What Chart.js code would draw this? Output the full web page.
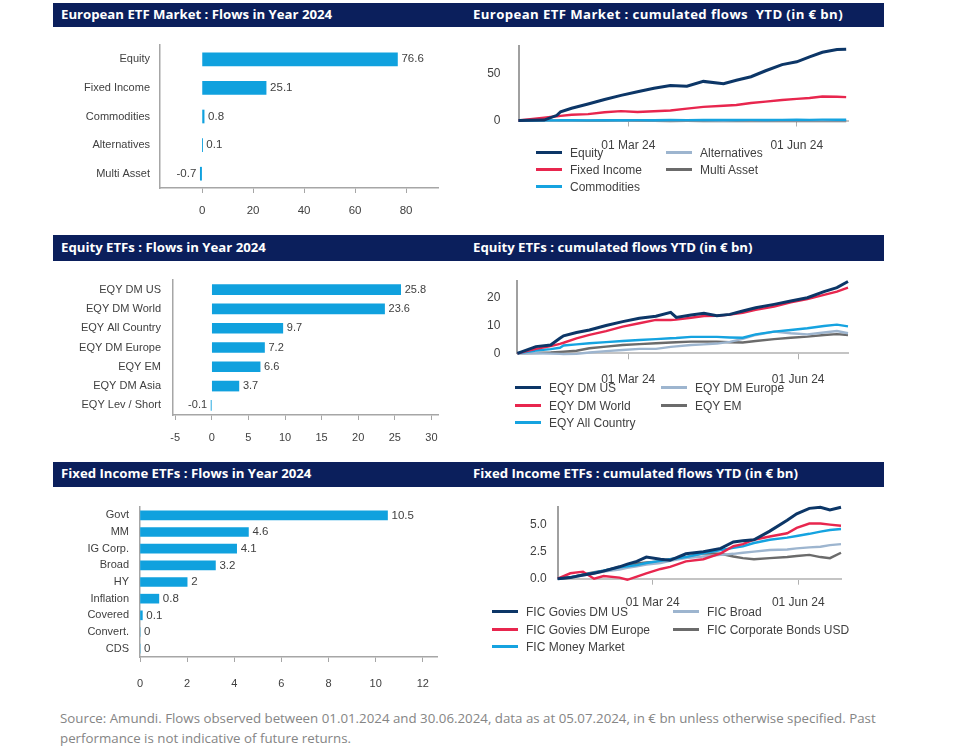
<!DOCTYPE html>
<html>
<head>
<meta charset="utf-8">
<script src="https://cdn.jsdelivr.net/npm/chart.js@4.4.1/dist/chart.umd.min.js"></script>
<style>
  body { margin: 0; background: #fff; width: 960px; height: 754px; position: relative; overflow: hidden; }
  .band { position: absolute; left: 53px; width: 831px; background: #0b1f5c; }
  .title { position: absolute; color: #fff; font: bold 13.2px "Open Sans", sans-serif; white-space: pre; }
  canvas { position: absolute; }
  .lg { position: absolute; font: 12px "Liberation Sans", Arial, sans-serif; color: #404040; white-space: nowrap; line-height: 14px; }
  .lg i { position: absolute; left: 0; top: 5px; width: 26px; height: 3px; }
  .lg span { position: absolute; left: 34px; top: 0; }
  .note { position: absolute; left: 60px; top: 708px; font: 13.3px "Open Sans", sans-serif; color: #858585; line-height: 20px; white-space: nowrap; }
</style>
</head>
<body>
<div class="band" style="top:3px;height:24px"></div>
<div class="band" style="top:235px;height:26px"></div>
<div class="band" style="top:462px;height:25px"></div>
<div class="title" style="left:61px;top:5px">European ETF Market : Flows in Year 2024</div>
<div class="title" style="left:473px;top:5px;letter-spacing:0.4px">European ETF Market : cumulated flows  YTD (in € bn)</div>
<div class="title" style="left:61px;top:238px">Equity ETFs : Flows in Year 2024</div>
<div class="title" style="left:473px;top:238px">Equity ETFs : cumulated flows YTD (in € bn)</div>
<div class="title" style="left:61px;top:464px">Fixed Income ETFs : Flows in Year 2024</div>
<div class="title" style="left:473px;top:464px">Fixed Income ETFs : cumulated flows YTD (in € bn)</div>

<canvas id="c1"></canvas>
<canvas id="c2"></canvas>
<canvas id="c3"></canvas>
<canvas id="c4"></canvas>
<canvas id="c5"></canvas>
<canvas id="c6"></canvas>

<div class="note">Source: Amundi. Flows observed between 01.01.2024 and 30.06.2024, data as at 05.07.2024, in € bn unless otherwise specified. Past<br>performance is not indicative of future returns.</div>

<script>
// bar charts
const assetCats = ['Equity', 'Fixed Income', 'Commodities', 'Alternatives', 'Multi Asset'];
const assetFlows = [76.6, 25.1, 0.8, 0.1, -0.7];
const assetTicks = [0, 20, 40, 60, 80];

const eqyCats = ['EQY DM US', 'EQY DM World', 'EQY All Country', 'EQY DM Europe', 'EQY EM', 'EQY DM Asia', 'EQY Lev / Short'];
const eqyFlows = [25.8, 23.6, 9.7, 7.2, 6.6, 3.7, -0.1];
const eqyTicks = [-5, 0, 5, 10, 15, 20, 25, 30];

const ficCats = ['Govt', 'MM', 'IG Corp.', 'Broad', 'HY', 'Inflation', 'Covered', 'Convert.', 'CDS'];
const ficFlows = [10.5, 4.6, 4.1, 3.2, 2, 0.8, 0.1, 0, 0];
const ficTicks = [0, 2, 4, 6, 8, 10, 12];

// cumulated flows
const dateTicks = ['2024-03-01', '2024-06-01'];
const dateTickLabels = ['01 Mar 24', '01 Jun 24'];

const marketDates = ['2024-01-01', '2024-01-15', '2024-01-22', '2024-01-24', '2024-01-30', '2024-02-08', '2024-02-17', '2024-02-26',
  '2024-03-06', '2024-03-15', '2024-03-24', '2024-04-02', '2024-04-11', '2024-04-22', '2024-04-29', '2024-05-07', '2024-05-15',
  '2024-05-24', '2024-06-01', '2024-06-08', '2024-06-15', '2024-06-23', '2024-06-28'];
const marketNames = ['Equity', 'Fixed Income', 'Commodities', 'Alternatives', 'Multi Asset'];
const marketEquity = [0, 0.5, 5.6, 9.4, 13.2, 17.7, 22.6, 27, 30.8, 34.6, 37.6, 36.8, 42, 39.5, 43.2, 47, 53.4, 60, 63, 68.4, 73.3, 76.3, 76.6];
const marketFixedIncome = [0, 3, 4.5, 5, 6.2, 6.8, 8.8, 10.1, 9.2, 10, 10.8, 12.8, 14.6, 15.8, 16.6, 18.8, 20.3, 22, 23.2, 24.2, 25.8, 25.5, 25.1];
const marketCommodities = [0, 0.1, 0.1, 0.2, 0.2, 0.1, 0.3, 0.2, 0.4, 0.3, 0.5, 0.4, 0.6, 0.5, 0.6, 0.7, 0.6, 0.7, 0.8, 0.7, 0.9, 0.8, 0.8];
const marketAlternatives = [0, 0, 0.1, 0, 0, 0.1, 0.1, 0, 0.1, 0.1, 0.2, 0.1, 0.1, 0, 0.1, 0.1, 0.2, 0.1, 0.1, 0.1, 0.2, 0.1, 0.1];
const marketMultiAsset = [0, -0.1, -0.1, -0.2, -0.2, -0.3, -0.3, -0.2, -0.4, -0.4, -0.5, -0.4, -0.5, -0.5, -0.6, -0.5, -0.6, -0.6, -0.7, -0.6, -0.7, -0.7, -0.7];
const marketTicks = [0, 50];

const equityDates = ['2024-01-01', '2024-01-11', '2024-01-19', '2024-01-24', '2024-01-26', '2024-02-02', '2024-02-09', '2024-02-18',
  '2024-02-27', '2024-03-07', '2024-03-16', '2024-03-24', '2024-03-27', '2024-04-04', '2024-04-11', '2024-04-18', '2024-04-25',
  '2024-05-02', '2024-05-09', '2024-05-19', '2024-05-28', '2024-06-06', '2024-06-15', '2024-06-22', '2024-06-28'];
const equityNames = ['EQY DM US', 'EQY DM World', 'EQY All Country', 'EQY DM Europe', 'EQY EM'];
const equityUS = [0, 2.4, 3, 5.4, 6.3, 7.5, 8.4, 10, 11.4, 12.6, 13.3, 14.7, 12.9, 13.8, 14.4, 13.5, 14, 15.2, 16.4, 17.6, 18.8, 20, 22.2, 23.6, 25.8];
const equityWorld = [0, 1.6, 2.6, 3.4, 3.8, 5.4, 6.6, 8, 9.6, 10.8, 12, 12, 12.1, 12.8, 13.4, 13.5, 13.9, 14.6, 15.6, 16.8, 18.3, 19.5, 21, 22.2, 23.6];
const equityAllCountry = [0, 1.0, 1.5, 2.0, 2.8, 3.2, 3.6, 4.0, 4.4, 4.8, 5.1, 5.4, 5.5, 5.9, 5.9, 5.9, 5.7, 5.6, 6.8, 7.8, 8.4, 9, 9.8, 10.3, 9.7];
const equityEurope = [0, 0, -0.1, -0.2, -0.3, -0.2, 0.3, 0.8, 1.2, 1.6, 1.6, 2.3, 2.5, 3, 3.2, 3.5, 4.1, 5.2, 6.6, 7.8, 7.2, 6.8, 7.5, 8, 7.2];
const equityEM = [0, 0.1, 0.3, 0.5, 0.6, 0.9, 1.8, 2.4, 3, 3.3, 3.6, 3.9, 4, 4.2, 4.2, 4.2, 4.0, 3.9, 4.4, 5.1, 5.6, 6, 6.6, 6.9, 6.6];
const equityTicks = [0, 10, 20];

const ficDates = ['2024-01-01', '2024-01-09', '2024-01-17', '2024-01-24', '2024-01-30', '2024-02-09', '2024-02-14', '2024-02-20',
  '2024-02-26', '2024-03-06', '2024-03-12', '2024-03-22', '2024-04-02', '2024-04-13', '2024-04-21', '2024-04-27', '2024-05-04',
  '2024-05-14', '2024-05-25', '2024-05-31', '2024-06-08', '2024-06-15', '2024-06-21', '2024-06-28'];
const ficNames = ['FIC Govies DM US', 'FIC Govies DM Europe', 'FIC Money Market', 'FIC Broad', 'FIC Corporate Bonds USD'];
const ficGoviesUS = [0, 0.1, 0.35, 0.5, 0.7, 1.1, 1.35, 1.6, 2.0, 1.8, 1.7, 2.3, 2.5, 2.8, 3.4, 3.5, 3.6, 4.4, 5.4, 6.0, 6.5, 6.6, 6.35, 6.6];
const ficGoviesEurope = [0, 0.5, 0.65, 0, 0.25, 0.1, -0.1, 0.2, 0.5, 0.9, 1.1, 1.6, 1.8, 2.35, 3.0, 3.2, 3.6, 3.9, 4.2, 4.7, 5.1, 5.1, 5.0, 4.9];
const ficMoneyMarket = [0, 0.15, 0.35, 0.55, 0.75, 1.05, 1.15, 1.25, 1.45, 1.65, 1.8, 2.0, 2.35, 2.65, 2.85, 3.0, 3.3, 3.6, 3.8, 3.95, 4.15, 4.35, 4.5, 4.6];
const ficBroad = [0, 0.15, 0.3, 0.5, 0.65, 0.85, 1.0, 1.15, 1.3, 1.45, 1.65, 1.9, 2.05, 2.2, 2.3, 2.4, 2.5, 2.65, 2.7, 2.8, 2.9, 2.95, 3.1, 3.2];
const ficCorpUSD = [0, 0.1, 0.4, 0.6, 0.75, 1.1, 1.25, 1.4, 1.5, 1.6, 1.8, 2.0, 2.35, 2.3, 2.05, 1.9, 1.8, 1.9, 2.0, 2.1, 2.2, 2.0, 1.9, 2.4];
const ficTicksY = [0, 2.5, 5];

const barColor = '#10a1de';
const lineColors = ['#0c3667', '#e8264e', '#15a3e0', '#9db5cf', '#6b6b6b'];
const lineWidths = [3, 2.4, 2.4, 2.4, 2.4];
const axisGrey = '#a6a6a6';
const textGrey = '#404040';

Chart.defaults.font.family = '"Liberation Sans", Arial, sans-serif';
Chart.defaults.color = textGrey;
Chart.defaults.animation = false;

const dayOf = d => Math.round((Date.parse(d) - Date.parse('2024-01-01')) / 86400000);

function placeCanvas(id, box) {
  const c = document.getElementById(id);
  c.width = box.width; c.height = box.height;
  c.style.left = box.left + 'px'; c.style.top = box.top + 'px';
  c.style.width = box.width + 'px'; c.style.height = box.height + 'px';
  return c;
}

// keep the chart area where the picture has it: no extra room for tick labels
const fitX = (box, area) => s => {
  s.height = box.top + box.height - area.bottom;
  s.paddingLeft = 0; s.paddingRight = 0;
};
const fitY = (box, area) => s => {
  s.width = area.left - box.left;
  s.paddingTop = 0; s.paddingBottom = 0;
};

// value labels at the end of each bar
const barValueLabels = {
  id: 'barValueLabels',
  afterDatasetsDraw(chart, args, opts) {
    const ctx = chart.ctx;
    const meta = chart.getDatasetMeta(0);
    const vals = chart.data.datasets[0].data;
    ctx.save();
    ctx.font = opts.size + 'px "Liberation Sans", Arial, sans-serif';
    ctx.fillStyle = textGrey;
    ctx.textBaseline = 'middle';
    meta.data.forEach((el, i) => {
      const v = vals[i];
      if (v < 0) {
        ctx.textAlign = 'right';
        ctx.fillText(String(v), el.x - 4, el.y);
      } else {
        ctx.textAlign = 'left';
        ctx.fillText(String(v), el.x + 4, el.y);
      }
    });
    ctx.restore();
  }
};

function barChart(id, box, area, cats, vals, ticks, xmin, xmax, opt) {
  const c = placeCanvas(id, box);
  return new Chart(c, {
    type: 'bar',
    data: { labels: cats, datasets: [{ data: vals, backgroundColor: barColor, barThickness: opt.thick }] },
    plugins: [barValueLabels],
    options: {
      responsive: false,
      indexAxis: 'y',
      layout: { padding: { top: area.top - box.top, right: box.left + box.width - area.right, left: 0, bottom: 0 } },
      plugins: { legend: { display: false }, tooltip: { enabled: false }, barValueLabels: { size: opt.valueSize } },
      scales: {
        x: {
          type: 'linear', min: xmin, max: xmax,
          afterBuildTicks: s => { s.ticks = ticks.map(v => ({ value: v })); },
          afterFit: fitX(box, area),
          grid: { drawOnChartArea: false, drawTicks: true, tickLength: 5, color: axisGrey, lineWidth: 1 },
          border: { color: axisGrey, width: 1.5 },
          ticks: { padding: opt.xPad, maxRotation: 0, autoSkip: false, font: { size: opt.tickSize } }
        },
        y: {
          afterFit: fitY(box, area),
          grid: { display: false, drawTicks: false },
          border: { color: axisGrey, width: 1.5 },
          ticks: { padding: opt.yPad, autoSkip: false, font: { size: 11 } }
        }
      }
    }
  });
}

function lineChart(id, box, area, dates, series, yTicks, ymax, xmax, opt) {
  const c = placeCanvas(id, box);
  const tickDays = dateTicks.map(dayOf);
  return new Chart(c, {
    type: 'line',
    data: {
      datasets: series.map((vals, k) => ({
        data: dates.map((d, i) => ({ x: dayOf(d), y: vals[i] })),
        borderColor: lineColors[k], borderWidth: lineWidths[k],
        pointRadius: 0, tension: 0, fill: false, clip: false
      }))
    },
    options: {
      responsive: false,
      layout: { padding: { top: area.top - box.top, right: box.left + box.width - area.right, left: 0, bottom: 0 } },
      plugins: { legend: { display: false }, tooltip: { enabled: false } },
      scales: {
        x: {
          type: 'linear', min: 0, max: xmax,
          afterBuildTicks: s => { s.ticks = tickDays.map(v => ({ value: v })); },
          afterFit: fitX(box, area),
          grid: { drawOnChartArea: false, drawTicks: true, tickLength: 6, color: '#b0b0b0', lineWidth: 1 },
          border: { color: '#c4c4c4', width: 2 },
          ticks: { padding: opt.xPad, maxRotation: 0, autoSkip: false, font: { size: 12 },
            callback: v => dateTickLabels[tickDays.indexOf(v)] }
        },
        y: {
          min: 0, max: ymax,
          afterBuildTicks: s => { s.ticks = yTicks.map(v => ({ value: v })); },
          afterFit: fitY(box, area),
          grid: { display: false, drawTicks: false },
          border: { color: '#a0a0a0', width: 2 },
          ticks: { padding: opt.yPad, font: { size: 12 }, callback: opt.fmt || (v => v) }
        }
      }
    }
  });
}

function legend(names, pos) {
  names.forEach((n, k) => {
    const col = Math.floor(k / 3), row = k % 3;
    const d = document.createElement('div');
    d.className = 'lg';
    d.style.left = (col ? pos.x2 : pos.x1) + 'px';
    d.style.top = (pos.y + row * pos.dy - 7) + 'px';
    d.innerHTML = '<i style="background:' + lineColors[k] + '"></i><span>' + n + '</span>';
    document.body.appendChild(d);
  });
}

barChart('c1', { left: 55, top: 35, width: 390, height: 190 }, { left: 160, top: 45, right: 438, bottom: 188 },
  assetCats, assetFlows, assetTicks, -16.5, 92.5, { thick: 13, xPad: 11, yPad: 10, tickSize: 11.5, valueSize: 11.5 });
barChart('c3', { left: 55, top: 268, width: 390, height: 185 }, { left: 173, top: 280, right: 438, bottom: 415 },
  eqyCats, eqyFlows, eqyTicks, -5.3, 30.9, { thick: 10, xPad: 11, yPad: 12, tickSize: 11, valueSize: 11 });
barChart('c5', { left: 45, top: 495, width: 400, height: 200 }, { left: 140, top: 507, right: 437, bottom: 657 },
  ficCats, ficFlows, ficTicks, 0, 12.6, { thick: 9, xPad: 15, yPad: 11, tickSize: 11, valueSize: 11.5 });

lineChart('c2', { left: 470, top: 36, width: 390, height: 124 }, { left: 518.5, top: 46, right: 848, bottom: 120.5 },
  marketDates, [marketEquity, marketFixedIncome, marketCommodities, marketAlternatives, marketMultiAsset],
  marketTicks, 80, 180, { xPad: 12, yPad: 18 });
lineChart('c4', { left: 470, top: 271, width: 390, height: 124 }, { left: 517.4, top: 281, right: 848, bottom: 353.3 },
  equityDates, [equityUS, equityWorld, equityAllCountry, equityEurope, equityEM],
  equityTicks, 26, 179, { xPad: 13, yPad: 17 });
lineChart('c6', { left: 510, top: 497, width: 345, height: 120 }, { left: 557.7, top: 507.3, right: 841, bottom: 578.7 },
  ficDates, [ficGoviesUS, ficGoviesEurope, ficMoneyMarket, ficBroad, ficCorpUSD],
  ficTicksY, 6.6, 179, { xPad: 11, yPad: 11, fmt: v => v.toFixed(1) });

legend(marketNames, { x1: 536, x2: 666, y: 153, dy: 17 });
legend(equityNames, { x1: 515, x2: 661, y: 388, dy: 17.5 });
legend(ficNames, { x1: 492, x2: 673, y: 612, dy: 17.5 });
</script>
</body>
</html>
